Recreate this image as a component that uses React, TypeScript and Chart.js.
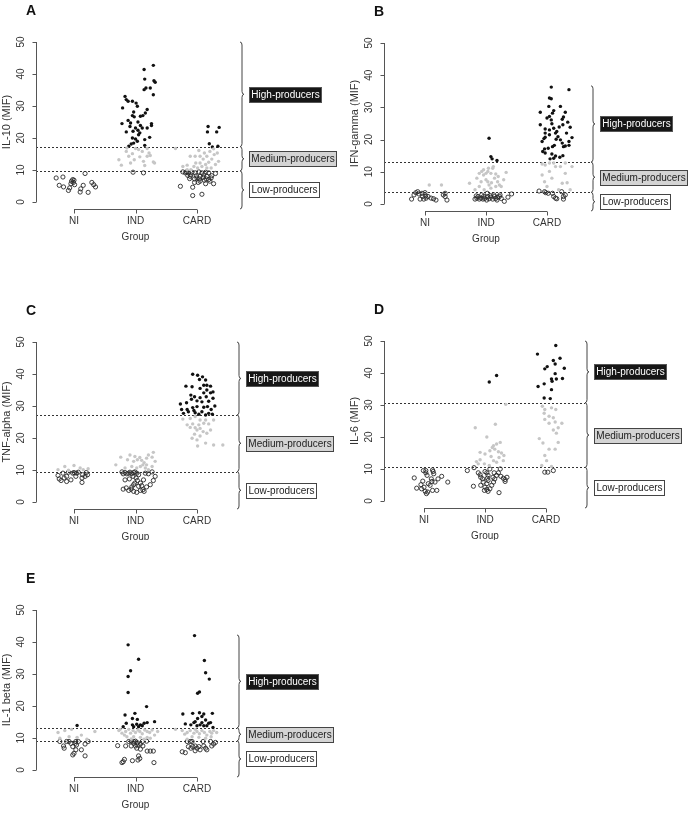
import React, { useEffect, useRef } from "react";
import { Chart, registerables } from "chart.js";
Chart.register(...registerables);

const GROUPS = ["NI", "IND", "CARD"];
const Y_TICKS = [0, 10, 20, 30, 40, 50];
const BOX_LABELS = ["High-producers", "Medium-producers", "Low-producers"];
const X_TITLE = "Group";
const Y_MIN = -2.2;
const Y_MAX = 50;

// [group index (1=NI,2=IND,3=CARD), jitter, value]
type P = [number, number, number];

// ---------- Panel A: IL-10 ----------
const A_thresholds = [17.3, 9.7];
const A_braceTop = 50;
const A_high: P[] = [
  [2,0.29,42.7],[2,0.14,41.4],[2,0.15,38.4],[2,0.3,37.9],[2,0.32,37.4],[2,0.24,35.6],[2,0.17,35.6],[2,0.14,35.1],
  [2,0.29,33.5],[2,-0.17,33.0],[2,-0.15,32.0],[2,-0.12,31.5],[2,-0.05,31.5],[2,0.01,30.9],[2,-0.21,29.4],[2,0.03,29.9],
  [2,0.19,28.9],[2,0.16,27.8],[2,-0.03,28.1],[2,0.12,27.0],[2,-0.05,27.0],[2,-0.02,26.6],[2,0.08,26.8],[2,-0.12,25.5],
  [2,0.04,25.0],[2,-0.08,24.7],[2,-0.22,24.5],[2,0.26,24.5],[2,0.08,23.9],[2,0.11,23.1],[2,0.19,23.1],[2,0,23.1],
  [2,0.26,23.9],[2,0.04,22.4],[2,-0.15,21.9],[2,0.07,21.6],[2,-0.05,20.0],[2,0.23,20.2],[2,0,19.7],[2,0.03,19.0],
  [2,0.15,19.5],[2,-0.03,18.4],[2,-0.07,18.1],[2,0.15,17.7],[2,-0.11,17.4],[2,0.05,21.0],[2,-0.04,22.1],[2,-0.09,23.6],
  [3,0.18,23.6],[3,0.36,23.3],[3,0.17,21.9],[3,0.32,21.9],[3,0.2,18.2],[3,0.25,17.2],[3,0.34,17.4],
];
const A_med: P[] = [
  [2,-0.27,13.2],[2,-0.23,11.5],[2,-0.15,15.8],[2,-0.11,14.3],[2,-0.05,15.1],[2,-0.02,13.2],[2,0.07,14.1],[2,0.11,15.8],
  [2,0.15,11.4],[2,0.19,14.3],[2,0.22,15.3],[2,0.29,12.5],[2,0.31,12.2],[2,0.05,16.4],[2,0,16.7],[2,-0.14,16.9],
  [2,0.19,16.7],[2,0.24,14.5],[2,0.13,12.7],[2,-0.08,12.2],
  [3,-0.35,16.7],[3,-0.23,11.1],[3,-0.16,11.5],[3,-0.11,14.3],[3,-0.05,11.1],[3,-0.02,12.2],[3,0.01,10.6],[3,0.05,12.2],
  [3,0.1,13.4],[3,0.12,15.3],[3,0.16,14.3],[3,0.21,15.8],[3,0.24,13.4],[3,0.28,14.8],[3,0.33,15.3],[3,0.35,12.7],
  [3,0.3,11.7],[3,0.14,11.7],[3,0.05,14.3],[3,0.03,16.1],[3,0.23,10.6],[3,0.16,10.6],[3,0.08,11.1],[3,-0.1,10.1],
  [3,-0.03,14.3],[3,0.19,12.4],[3,0.27,16.6],[3,-0.16,10.1],
];
const A_low: P[] = [
  [1,-0.29,7.5],[1,-0.24,5.2],[1,-0.18,7.8],[1,-0.17,4.7],[1,-0.09,3.6],[1,-0.07,4.4],[1,-0.05,5.7],[1,-0.04,6.5],
  [1,-0.02,7.0],[1,-0.01,6.1],[1,0,6.8],[1,0.01,5.4],[1,0.1,3.1],[1,0.11,4.1],[1,0.15,5.2],[1,0.18,8.9],[1,0.23,3.0],
  [1,0.29,6.1],[1,0.32,5.4],[1,0.35,4.7],
  [2,-0.04,9.3],[2,0.13,9.1],
  [3,-0.27,4.9],[3,-0.07,2.0],[3,0.08,2.4],[3,-0.07,4.6],[3,0.27,5.7],[3,0.05,6.5],[3,0.02,6.1],[3,0.12,6.8],[3,0.19,7.0],
  [3,0.23,7.5],[3,0.3,8.9],[3,0.24,8.2],[3,0.16,8.0],[3,0.11,8.5],[3,0.05,8.0],[3,0,7.5],[3,-0.04,7.2],[3,-0.11,8.0],
  [3,-0.15,8.3],[3,-0.19,9.1],[3,-0.23,9.4],[3,-0.17,9.4],[3,-0.14,9.1],[3,-0.08,9.3],[3,-0.03,9.1],[3,0.03,9.4],
  [3,0.08,9.1],[3,0.14,9.3],[3,0.19,9.1],[3,-0.1,8.5],[3,-0.01,8.2],[3,0.04,7.2],[3,0.1,7.7],[3,0.15,7.2],[3,0.21,6.5],
  [3,-0.04,6.1],[3,-0.12,7.3],[3,0.14,5.7],
];

// ---------- Panel B: IFN-gamma ----------
const B_thresholds = [13.0, 3.6];
const B_braceTop = 36.7;
const B_high: P[] = [
  [2,0.05,20.4],[2,0.08,14.7],[2,0.1,14.0],[2,0.18,13.5],
  [3,0.07,36.3],[3,0.36,35.5],[3,0.04,32.9],[3,0.07,32.7],[3,0.03,30.3],[3,0.22,30.3],[3,-0.11,28.5],[3,0.09,28.2],
  [3,0.11,29.0],[3,0.3,28.5],[3,0.27,27.0],[3,0,26.7],[3,0.07,26.1],[3,0.25,26.3],[3,0.08,24.9],[3,0.26,24.6],
  [3,-0.11,24.6],[3,0.34,25.4],[3,0.38,23.8],[3,-0.03,23.3],[3,0.04,23.0],[3,0.11,23.5],[3,0.2,23.9],[3,-0.03,22.0],
  [3,0.14,22.0],[3,0.16,22.5],[3,0.04,21.5],[3,0.32,22.0],[3,-0.03,20.7],[3,0.41,20.6],[3,-0.08,19.4],[3,0.15,20.1],
  [3,0.22,19.9],[3,0.36,19.4],[3,0.25,18.9],[3,0.12,18.2],[3,0.09,17.8],[3,0.3,18.0],[3,0.36,18.2],[3,0.02,17.3],
  [3,-0.04,17.1],[3,-0.07,16.3],[3,-0.03,15.8],[3,0.08,15.5],[3,0.14,14.9],[3,0.26,15.0],[3,0.21,14.5],[3,0.05,14.0],
  [3,0.11,14.2],[3,0.27,17.8],[3,0.18,20.9],[3,0.04,27.2],[3,-0.05,20.3],
];
const B_med: P[] = [
  [1,0.07,5.9],[1,0.27,5.9],
  [2,-0.27,6.4],[2,-0.18,4.4],[2,-0.11,9.5],[2,-0.07,10.1],[2,-0.04,9.0],[2,0,9.5],[2,0.03,10.1],[2,0.08,9.5],
  [2,0.11,11.1],[2,0.14,8.0],[2,0.16,9.3],[2,0.19,6.9],[2,0.22,5.9],[2,0.25,5.4],[2,0.29,7.5],[2,0.33,9.8],
  [2,0.03,6.9],[2,0.05,5.9],[2,0.08,4.9],[2,-0.03,4.4],[2,-0.11,5.4],[2,-0.15,8.0],[2,0.12,11.6],[2,0.04,11.1],
  [2,-0.04,10.6],[2,0.16,5.4],[2,0.2,8.5],[2,0.09,6.6],[2,0,7.5],[2,-0.08,6.9],
  [3,-0.08,9.0],[3,-0.04,6.9],[3,0,5.4],[3,0.04,10.1],[3,0.08,8.0],[3,0.14,11.6],[3,0.19,4.4],[3,0.25,6.4],
  [3,0.3,9.5],[3,0.33,6.6],[3,0.38,4.4],[3,0.41,11.6],[3,0.3,12.7],[3,0.11,12.7],[3,0.04,12.7],[3,-0.03,12.1],
  [3,0.22,11.6],[3,-0.08,12.4],
];
const B_low: P[] = [
  [1,-0.22,1.5],[1,-0.18,2.8],[1,-0.15,3.5],[1,-0.12,3.8],[1,-0.1,3.1],[1,-0.08,1.5],[1,-0.04,2.3],[1,-0.02,1.5],
  [1,0,3.5],[1,0.02,1.8],[1,0.05,2.3],[1,0.1,1.8],[1,0.14,1.6],[1,0.18,1.2],[1,0.3,2.8],[1,0.33,2.3],[1,0.36,1.2],
  [1,0.33,3.3],[1,0.01,2.5],[1,-0.05,3.3],
  [2,-0.18,1.5],[2,-0.15,1.8],[2,-0.13,2.3],[2,-0.11,1.5],[2,-0.08,1.8],[2,-0.05,1.5],[2,-0.04,2.3],[2,-0.02,1.7],
  [2,0.01,1.2],[2,0.03,2.3],[2,0.05,1.6],[2,0.08,2.1],[2,0.11,1.5],[2,0.14,2.3],[2,0.16,1.7],[2,0.19,2.1],[2,0.22,2.3],
  [2,0.25,1.7],[2,0.3,0.8],[2,0.36,2.1],[2,0.42,3.1],[2,0.02,3.3],[2,-0.07,2.8],[2,-0.16,2.5],[2,0.07,2.6],[2,0.13,2.8],
  [2,0.18,1.2],[2,0.23,2.8],
  [3,-0.13,4.0],[3,-0.04,3.8],[3,-0.02,3.5],[3,0.02,3.3],[3,0.09,3.3],[3,0.11,2.3],[3,0.14,1.8],[3,0.16,1.6],
  [3,0.24,3.8],[3,0.27,2.3],[3,0.3,2.8],[3,0.27,1.5],
];

// ---------- Panel C: TNF-alpha ----------
const C_thresholds = [27.2, 9.5];
const C_braceTop = 50;
const C_high: P[] = [
  [3,-0.07,39.9],[3,0.01,39.6],[3,0.09,39.1],[3,0.04,38.3],[3,0.14,38.1],[3,-0.18,36.2],[3,-0.08,36.0],[3,0.11,36.5],
  [3,0.16,36.5],[3,0.22,36.2],[3,0.05,35.5],[3,0.16,35.0],[3,0.26,34.4],[3,0.11,34.1],[3,0.22,34.1],[3,-0.1,33.4],
  [3,-0.04,32.9],[3,0.05,32.6],[3,0.15,32.9],[3,0.26,32.4],[3,-0.17,31.0],[3,-0.09,32.1],[3,0,31.6],[3,0.08,31.3],
  [3,0.19,31.5],[3,-0.27,30.6],[3,-0.25,28.9],[3,-0.16,28.9],[3,-0.07,29.5],[3,0,29.8],[3,0.11,29.6],[3,0.17,29.8],
  [3,0.29,30.0],[3,0.23,28.9],[3,-0.14,28.2],[3,-0.22,27.7],[3,-0.03,27.9],[3,0.03,27.4],[3,0.08,28.2],[3,0.14,27.2],
  [3,0.19,27.7],[3,0.25,27.4],[3,-0.05,28.6],
];
const C_med: P[] = [
  [1,-0.26,10.1],[1,-0.15,11.1],[1,0,11.4],[1,0.1,10.6],[1,0.15,10.1],[1,0.23,10.4],[1,-0.09,9.9],
  [2,-0.32,11.6],[2,-0.24,14.0],[2,-0.13,13.2],[2,-0.09,14.7],[2,-0.03,12.7],[2,-0.01,14.2],[2,0.03,13.2],[2,0.07,13.9],
  [2,0.1,13.0],[2,0.14,12.3],[2,0.18,13.7],[2,0.21,14.7],[2,0.27,14.0],[2,0.29,15.5],[2,0.32,12.7],[2,0.08,11.1],
  [2,0.16,10.6],[2,0.21,10.1],[2,0.12,11.6],[2,-0.06,11.1],[2,0.02,10.6],[2,-0.17,10.6],[2,0.27,11.1],[2,0.18,11.6],
  [3,-0.23,25.9],[3,-0.11,26.1],[3,-0.03,26.7],[3,0.05,25.6],[3,0.14,25.6],[3,-0.07,24.4],[3,0.03,24.1],[3,0.11,24.6],
  [3,0.19,24.4],[3,-0.11,23.3],[3,-0.03,23.2],[3,0.05,23.0],[3,0,22.5],[3,0.22,22.5],[3,0.1,22.0],[3,0.16,21.5],
  [3,-0.04,21.2],[3,0.05,20.6],[3,-0.08,19.9],[3,0,19.4],[3,0.14,18.4],[3,0.01,17.5],[3,0.27,17.8],[3,0.42,17.8],
  [3,-0.16,24.1],[3,0.27,25.6],
];
const C_low: P[] = [
  [1,-0.26,8.3],[1,-0.24,7.2],[1,-0.21,6.7],[1,-0.18,9.0],[1,-0.16,7.5],[1,-0.12,6.4],[1,-0.09,9.3],[1,-0.05,6.9],
  [1,-0.02,9.0],[1,0,9.2],[1,0.03,8.0],[1,0.07,9.3],[1,0.13,6.1],[1,0.14,8.5],[1,0.18,8.0],[1,0.2,9.2],[1,0.22,8.5],
  [1,0.13,7.5],[1,0.04,9.0],[1,-0.12,8.0],
  [2,-0.22,9.4],[2,-0.2,8.8],[2,-0.17,9.2],[2,-0.14,8.8],[2,-0.11,9.0],[2,-0.09,9.3],[2,-0.06,8.8],[2,-0.03,9.2],
  [2,-0.01,9.4],[2,0.02,9.0],[2,0.05,8.5],[2,0.01,7.5],[2,0.03,6.7],[2,-0.01,5.9],[2,-0.03,5.4],[2,-0.06,4.7],
  [2,-0.07,4.0],[2,-0.15,4.4],[2,-0.11,3.6],[2,-0.03,3.3],[2,0.02,3.0],[2,0.08,3.6],[2,0.12,3.8],[2,0.18,4.7],
  [2,0.24,5.4],[2,0.29,6.7],[2,0.32,8.0],[2,0.27,9.4],[2,0.21,8.8],[2,0.16,9.0],[2,0.13,6.9],[2,0.08,5.9],[2,0.05,4.9],
  [2,-0.17,6.9],[2,-0.04,8.0],[2,-0.1,7.2],[2,-0.2,4.0],[2,0.14,3.3],[2,0.1,5.1],
];

// ---------- Panel D: IL-6 ----------
const D_thresholds = [30.7, 10.5];
const D_braceTop = 50;
const D_high: P[] = [
  [2,0.07,37.2],[2,0.19,39.2],
  [3,-0.14,45.9],[3,0.16,48.6],[3,0.12,43.9],[3,0.23,44.6],[3,0.15,42.8],[3,0.3,41.5],[3,-0.02,41.3],[3,0.02,42.0],
  [3,0.15,39.8],[3,0.1,37.4],[3,0.17,38.1],[3,0.27,38.3],[3,0.09,38.1],[3,-0.03,36.6],[3,-0.13,35.8],[3,0.09,34.8],
  [3,-0.03,32.2],[3,0.07,32.0],
];
const D_med: P[] = [
  [2,-0.16,22.9],[2,0.17,24.0],[2,0.03,20.0],[2,0.34,30.2],[2,0.14,17.3],[2,0.19,17.8],[2,0.25,18.3],[2,0.16,16.2],
  [2,0.22,15.4],[2,0.27,15.0],[2,0.31,14.2],[2,0.23,13.6],[2,-0.08,15.2],[2,0,14.7],[2,0.1,13.9],[2,-0.08,12.9],
  [2,-0.14,12.3],[2,-0.01,11.6],[2,0.07,11.1],[2,-0.11,11.6],[2,0.14,12.6],[2,0.19,12.1],[2,0.3,12.6],[2,0.08,15.7],
  [2,0.12,16.7],
  [3,-0.06,29.6],[3,-0.02,28.6],[3,0.09,29.1],[3,0.16,28.6],[3,-0.03,27.4],[3,0.05,26.5],[3,0.12,26.0],[3,-0.02,25.5],
  [3,0.05,24.3],[3,0.15,24.7],[3,0.26,24.3],[3,0.2,22.9],[3,0.12,22.2],[3,0.17,21.2],[3,-0.11,19.5],[3,-0.05,18.1],
  [3,0.2,18.3],[3,-0.02,14.2],[3,0.01,12.6],[3,-0.07,11.1],[3,0.09,10.8],[3,0.05,16.2],[3,0.15,16.2],
];
const D_low: P[] = [
  [1,-0.16,7.2],[1,-0.12,4.0],[1,-0.05,5.1],[1,-0.02,6.2],[1,-0.04,3.8],[1,0.02,3.0],[1,0.04,2.3],[1,0.06,2.8],
  [1,0,4.3],[1,0.03,8.8],[1,0.03,9.5],[1,0.05,8.0],[1,0.1,4.9],[1,0.12,6.9],[1,0.14,3.3],[1,0.15,9.2],[1,0.16,8.5],
  [1,0.18,5.9],[1,0.21,3.3],[1,0.23,6.9],[1,0.29,7.7],[1,0.39,5.9],[1,0.07,5.4],[1,0.13,6.1],[1,-0.01,9.5],[1,0.14,9.7],
  [2,-0.29,9.5],[2,-0.18,10.4],[2,-0.19,4.6],[2,-0.11,8.8],[2,-0.08,8.2],[2,-0.07,7.4],[2,-0.04,6.9],[2,0,9.2],
  [2,0.03,8.8],[2,0.05,8.0],[2,0.04,7.1],[2,0.05,6.4],[2,0.03,5.4],[2,0,4.3],[2,0.03,3.6],[2,0.05,3.0],[2,0.08,3.8],
  [2,0.11,4.9],[2,0.14,5.9],[2,0.16,6.9],[2,0.19,8.0],[2,0.22,8.8],[2,0.25,10.0],[2,0.26,7.7],[2,0.3,7.1],[2,0.33,6.7],
  [2,0.36,7.4],[2,0.33,6.1],[2,0.23,2.6],[2,0.13,7.4],[2,-0.03,5.9],[2,-0.07,4.9],[2,-0.01,3.3],[2,0.08,10.0],[2,0.15,8.8],
  [3,-0.02,9.0],[3,0.03,9.0],[3,0.12,9.5],
];

// ---------- Panel E: IL-1 beta ----------
const E_thresholds = [13.2, 9.1];
const E_braceTop = 42.2;
const E_high: P[] = [
  [1,0.05,13.9],
  [2,-0.12,39.1],[2,0.05,34.6],[2,-0.08,31.0],[2,-0.12,29.2],[2,-0.12,24.2],[2,0.18,19.8],[2,-0.17,17.2],[2,-0.01,17.7],
  [2,-0.05,16.1],[2,0.03,15.8],[2,0.31,15.1],[2,-0.15,14.6],[2,-0.05,14.1],[2,0.02,14.3],[2,0.08,14.1],[2,0.14,14.6],
  [2,0.19,14.8],[2,-0.2,13.5],[2,-0.03,13.5],[2,0.05,13.5],[2,0.11,13.8],
  [3,-0.04,42.0],[3,0.12,34.2],[3,0.14,30.4],[3,0.2,28.4],[3,0.04,24.4],[3,0.01,24.0],[3,-0.23,17.5],[3,-0.07,17.7],
  [3,0.04,17.9],[3,0.11,17.5],[3,0.25,17.7],[3,-0.19,14.4],[3,-0.05,14.8],[3,0.01,16.1],[3,0.08,16.7],[3,0.14,15.6],
  [3,0.19,14.6],[3,0.22,14.8],[3,-0.1,14.1],[3,0,13.8],[3,0.05,14.1],[3,0.11,13.8],[3,0.16,13.8],[3,0.26,13.3],
  [3,-0.03,15.1],[3,0.08,14.8],
];
const E_med: P[] = [
  [1,-0.26,11.7],[1,-0.15,12.3],[1,-0.04,12.7],[1,0.12,10.9],[1,0.34,12.0],[1,-0.08,10.4],[1,0.05,10.2],[1,-0.23,9.9],
  [1,0.21,9.6],
  [2,-0.27,12.3],[2,-0.22,11.5],[2,-0.16,12.0],[2,-0.11,12.7],[2,-0.08,11.5],[2,-0.04,12.3],[2,0,11.7],[2,0.04,12.5],
  [2,0.07,12.0],[2,0.11,11.3],[2,0.15,12.5],[2,0.19,12.0],[2,0.23,11.7],[2,0.27,12.5],[2,0.31,10.9],[2,0.08,10.2],
  [2,-0.03,10.4],[2,-0.14,10.4],[2,0.19,10.2],[2,-0.25,12.7],[2,0.36,12.0],[2,0.14,9.6],[2,-0.07,9.7],[2,-0.18,10.9],
  [2,0.24,9.9],
  [3,-0.35,12.7],[3,-0.24,12.3],[3,-0.16,11.7],[3,-0.11,12.3],[3,-0.05,11.5],[3,0,12.0],[3,0.04,11.3],[3,0.08,12.3],
  [3,0.12,11.7],[3,0.16,10.9],[3,0.21,12.0],[3,0.24,11.5],[3,0.27,12.3],[3,0.32,11.7],[3,-0.08,10.4],[3,0.03,10.2],
  [3,0.14,9.9],[3,0.23,10.4],[3,-0.16,9.6],[3,-0.03,12.7],[3,-0.2,11.2],
];
const E_low: P[] = [
  [1,-0.23,8.9],[1,-0.17,7.5],[1,-0.16,6.8],[1,-0.08,8.9],[1,-0.05,8.3],[1,-0.02,4.7],[1,0,5.2],[1,0.02,8.3],
  [1,0.03,6.3],[1,0.04,7.8],[1,0.12,6.3],[1,0.18,4.4],[1,0.18,8.1],[1,0.23,8.9],[1,0.03,8.9],[1,-0.12,8.9],
  [1,-0.02,7.3],[1,0.07,8.9],
  [2,-0.29,7.6],[2,-0.16,7.5],[2,-0.11,8.9],[2,-0.07,9.0],[2,-0.03,8.9],[2,0,9.0],[2,0.03,8.5],[2,-0.03,8.3],
  [2,0,7.5],[2,0.02,6.8],[2,0.04,7.8],[2,0.08,8.1],[2,0.11,8.9],[2,0.18,9.0],[2,0.12,7.5],[2,0.08,6.5],[2,0.05,4.4],
  [2,0.07,3.6],[2,0.04,3.1],[2,-0.05,2.9],[2,-0.18,3.3],[2,-0.2,2.6],[2,-0.22,2.3],[2,0.19,5.9],[2,0.24,5.9],
  [2,0.29,5.9],[2,0.3,2.3],[2,-0.07,7.5],
  [3,-0.24,5.7],[3,-0.19,5.4],[3,-0.16,8.9],[3,-0.14,7.3],[3,-0.11,8.9],[3,-0.1,6.8],[3,-0.07,7.3],[3,-0.03,7.5],
  [3,0,6.8],[3,0.03,7.3],[3,0.05,6.3],[3,0.1,8.9],[3,0.11,7.5],[3,0.14,6.8],[3,0.16,6.3],[3,0.22,8.9],[3,0.27,8.1],
  [3,0.3,8.6],[3,0.24,7.5],[3,-0.03,6.0],[3,-0.08,8.9],
];

interface Layout { x: number; y: number; w: number; h: number; axisX: number; braceX: number; top: number; bottom: number; niPx: number; cardPx: number; }
interface PanelCfg { letter: string; yTitle: string; high: P[]; med: P[]; low: P[]; thr: number[]; braceTop: number; lay: Layout; }

const PANELS: PanelCfg[] = [
  { letter: "A", yTitle: "IL-10 (MIF)", high: A_high, med: A_med, low: A_low, thr: A_thresholds, braceTop: A_braceTop,
    lay: { x: 0, y: 0, w: 345, h: 270, axisX: 36, braceX: 240, top: 42, bottom: 209, niPx: 74, cardPx: 197 } },
  { letter: "B", yTitle: "IFN-gamma (MIF)", high: B_high, med: B_med, low: B_low, thr: B_thresholds, braceTop: B_braceTop,
    lay: { x: 345, y: 0, w: 344, h: 270, axisX: 39, braceX: 246, top: 43, bottom: 211, niPx: 80, cardPx: 202 } },
  { letter: "C", yTitle: "TNF-alpha (MIF)", high: C_high, med: C_med, low: C_low, thr: C_thresholds, braceTop: C_braceTop,
    lay: { x: 0, y: 270, w: 345, h: 270, axisX: 36, braceX: 237, top: 72, bottom: 239, niPx: 74, cardPx: 197 } },
  { letter: "D", yTitle: "IL-6 (MIF)", high: D_high, med: D_med, low: D_low, thr: D_thresholds, braceTop: D_braceTop,
    lay: { x: 345, y: 270, w: 344, h: 270, axisX: 39, braceX: 240, top: 71, bottom: 238, niPx: 79, cardPx: 201 } },
  { letter: "E", yTitle: "IL-1 beta (MIF)", high: E_high, med: E_med, low: E_low, thr: E_thresholds, braceTop: E_braceTop,
    lay: { x: 0, y: 540, w: 345, h: 273, axisX: 36, braceX: 237, top: 70, bottom: 237, niPx: 74, cardPx: 197 } },
];

const FONT = '"Liberation Sans", Arial, Helvetica, sans-serif';
const TXT = "#333";
const AXIS = "#555";

function toXY(arr: P[]) {
  return arr.map(([g, j, v]) => ({ x: g + j, y: v }));
}

function Panel({ cfg }: { cfg: PanelCfg }) {
  const ref = useRef<HTMLCanvasElement | null>(null);
  useEffect(() => {
    const L = cfg.lay;
    const unit = (L.cardPx - L.niPx) / 2;
    const xMin = 1 - (L.niPx - L.axisX) / unit;
    const xMax = 3 + (L.braceX - L.cardPx) / unit;

    const decor = {
      id: "decor",
      beforeDatasetsDraw(chart: any) {
        const { ctx, chartArea: ca, scales } = chart;
        const y = scales.y;
        ctx.save();
        ctx.setLineDash([2, 2]);
        ctx.strokeStyle = "#333";
        ctx.lineWidth = 1;
        for (const t of cfg.thr) {
          const py = Math.round(y.getPixelForValue(t)) + 0.5;
          ctx.beginPath();
          ctx.moveTo(ca.left, py);
          ctx.lineTo(ca.right, py);
          ctx.stroke();
        }
        ctx.restore();
      },
      afterDraw(chart: any) {
        const { ctx, chartArea: ca, scales } = chart;
        const xs = scales.x, ys = scales.y;
        ctx.save();
        ctx.strokeStyle = AXIS;
        ctx.lineWidth = 1;
        ctx.setLineDash([]);
        // y axis
        const ax = Math.round(ca.left) + 0.5;
        ctx.beginPath();
        ctx.moveTo(ax, ys.getPixelForValue(0));
        ctx.lineTo(ax, ys.getPixelForValue(50));
        for (const t of Y_TICKS) {
          const py = Math.round(ys.getPixelForValue(t)) + 0.5;
          ctx.moveTo(ax, py);
          ctx.lineTo(ax - 4, py);
        }
        ctx.stroke();
        ctx.fillStyle = TXT;
        ctx.font = `10px ${FONT}`;
        ctx.textAlign = "center";
        ctx.textBaseline = "middle";
        for (const t of Y_TICKS) {
          const py = ys.getPixelForValue(t);
          ctx.save();
          ctx.translate(ca.left - 15, py);
          ctx.rotate(-Math.PI / 2);
          ctx.fillText(String(t), 0, 0);
          ctx.restore();
        }
        // y title
        ctx.save();
        ctx.font = `11px ${FONT}`;
        ctx.translate(ca.left - 29, ys.getPixelForValue(25));
        ctx.rotate(-Math.PI / 2);
        ctx.fillText(cfg.yTitle, 0, 0);
        ctx.restore();
        // x axis
        const by = Math.round(ca.bottom) + 0.5;
        ctx.beginPath();
        ctx.moveTo(xs.getPixelForValue(1), by);
        ctx.lineTo(xs.getPixelForValue(3), by);
        GROUPS.forEach((_, i) => {
          const px = Math.round(xs.getPixelForValue(i + 1)) + 0.5;
          ctx.moveTo(px, by);
          ctx.lineTo(px, by + 4);
        });
        ctx.stroke();
        ctx.font = `10px ${FONT}`;
        ctx.textBaseline = "top";
        GROUPS.forEach((g, i) => {
          ctx.fillText(g, xs.getPixelForValue(i + 1), ca.bottom + 7);
        });
        ctx.textBaseline = "middle";
        ctx.fillText(X_TITLE, xs.getPixelForValue(2), ca.bottom + 28);
        // letter
        ctx.font = `bold 14px ${FONT}`;
        ctx.fillStyle = "#111";
        ctx.textAlign = "left";
        ctx.textBaseline = "alphabetic";
        ctx.fillText(cfg.letter, ca.left - 10, ca.top - 27);
        // braces
        const X = ca.right;
        const segs = [
          [cfg.braceTop, cfg.thr[0]],
          [cfg.thr[0], cfg.thr[1]],
          [cfg.thr[1], Y_MIN],
        ];
        ctx.lineWidth = 1;
        const w = 4, r = 3;
        segs.forEach(([a, b], i) => {
          const y1 = ys.getPixelForValue(a);
          const y2 = ys.getPixelForValue(b);
          const mid = (y1 + y2) / 2;
          const xm = X + w / 2;
          ctx.strokeStyle = "#444";
          ctx.beginPath();
          ctx.moveTo(X, y1);
          ctx.quadraticCurveTo(xm, y1, xm, y1 + r);
          ctx.lineTo(xm, mid - r);
          ctx.quadraticCurveTo(xm, mid, X + w, mid);
          ctx.quadraticCurveTo(xm, mid, xm, mid + r);
          ctx.lineTo(xm, y2 - r);
          ctx.quadraticCurveTo(xm, y2, X, y2);
          ctx.stroke();
          // label box
          ctx.font = `10px ${FONT}`;
          const label = BOX_LABELS[i];
          const tw = ctx.measureText(label).width;
          const bw = Math.round(tw + 4);
          const bh = 15;
          const bx = Math.round(X + 9) + 0.5;
          const byy = Math.round(mid - bh / 2) + 0.5;
          if (i === 0) {
            ctx.fillStyle = "#161616";
            ctx.fillRect(bx, byy, bw, bh);
            ctx.strokeStyle = "#555";
            ctx.strokeRect(bx, byy, bw, bh);
            ctx.fillStyle = "#fff";
          } else if (i === 1) {
            ctx.fillStyle = "#d4d4d4";
            ctx.fillRect(bx, byy, bw, bh);
            ctx.strokeStyle = "#444";
            ctx.strokeRect(bx, byy, bw, bh);
            ctx.fillStyle = "#222";
          } else {
            ctx.fillStyle = "#fff";
            ctx.fillRect(bx, byy, bw, bh);
            ctx.strokeStyle = "#444";
            ctx.strokeRect(bx, byy, bw, bh);
            ctx.fillStyle = "#222";
          }
          ctx.textAlign = "center";
          ctx.textBaseline = "middle";
          ctx.fillText(label, bx + bw / 2, byy + bh / 2 + 0.5);
        });
        ctx.restore();
      },
    };

    const chart = new Chart(ref.current as HTMLCanvasElement, {
      type: "scatter",
      data: {
        datasets: [
          { label: "Medium", data: toXY(cfg.med), pointRadius: 1.7, pointBackgroundColor: "#c6c6c6", pointBorderWidth: 0, clip: false } as any,
          { label: "Low", data: toXY(cfg.low), pointRadius: 2.1, pointBackgroundColor: "rgba(0,0,0,0)", pointBorderColor: "#2a2a2a", pointBorderWidth: 0.9, clip: false } as any,
          { label: "High", data: toXY(cfg.high), pointRadius: 1.7, pointBackgroundColor: "#111", pointBorderWidth: 0, clip: false } as any,
        ],
      },
      options: {
        animation: false,
        responsive: false,
        events: [],
        layout: { padding: { left: L.axisX, right: L.w - L.braceX, top: L.top, bottom: L.h - L.bottom } },
        plugins: { legend: { display: false }, tooltip: { enabled: false } },
        scales: {
          x: { type: "linear", min: xMin, max: xMax, display: false },
          y: { type: "linear", min: Y_MIN, max: Y_MAX, display: false },
        },
      },
      plugins: [decor],
    });
    return () => chart.destroy();
  }, [cfg]);
  const L = cfg.lay;
  return (
    <canvas
      ref={ref}
      width={L.w}
      height={L.h}
      style={{ position: "absolute", left: L.x, top: L.y, width: L.w, height: L.h }}
    />
  );
}

export default function App() {
  return (
    <div style={{ position: "absolute", left: 0, top: 0, width: 689, height: 813, background: "#fff", overflow: "hidden" }}>
      {PANELS.map((p) => (
        <Panel key={p.letter} cfg={p} />
      ))}
    </div>
  );
}
